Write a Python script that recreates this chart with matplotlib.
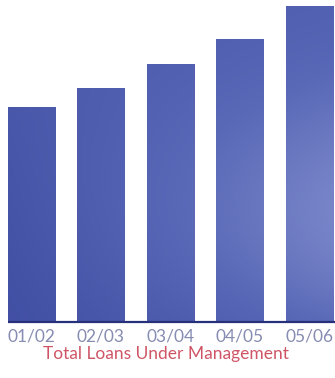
import numpy as np
import matplotlib.pyplot as plt
from matplotlib.colors import LinearSegmentedColormap

# data (bar heights, arbitrary units)
years = ["01/02", "02/03", "03/04", "04/05", "05/06"]
loans = [215, 234, 258, 283, 316]
caption = "Total Loans Under Management"

fig = plt.figure(figsize=(3.35, 3.78), dpi=100)
ax = fig.add_axes([0, 56 / 378, 1, 322 / 378])

x = np.arange(len(years))
bars = ax.bar(x, loans, width=0.68, color="none", edgecolor="none")

ax.set_xlim(-0.453, 4.367)
ax.set_ylim(0, 322)

# soft blue gradient clipped into each bar
cmap = LinearSegmentedColormap.from_list("blu", ["#3a479e", "#5867b6", "#8f9bd6"])
xx, yy = np.meshgrid(np.linspace(0, 1, 200), np.linspace(0, 1, 200))
field = 0.12 + 0.6 * xx * np.exp(-((yy - 0.3) / 0.5) ** 2) + 0.2 * yy
field = np.clip(field, 0, 1)
for b in bars:
    im = ax.imshow(field, cmap=cmap, vmin=0, vmax=1, origin="lower",
                   extent=[-0.453, 4.367, 0, 322], aspect="auto", zorder=1)
    im.set_clip_path(b)

# dark base line
ax.plot([-0.34, 4.367], [0, 0], color="#27307a", lw=1.6,
        clip_on=False, zorder=3, solid_capstyle="butt")

ax.set_xticks(x)
ax.set_xticklabels(years, fontsize=12.5, color="#868cb2",
                   family=["Lato", "DejaVu Sans"])
ax.tick_params(axis="x", length=0, pad=5)
ax.set_yticks([])
for s in ax.spines.values():
    s.set_visible(False)

fig.text(0.495, 1 - 354 / 378, caption, ha="center", va="center",
         fontsize=12.5, color="#cf5566", family=["Lato", "DejaVu Sans"])

fig.savefig("out.png", dpi=100)
